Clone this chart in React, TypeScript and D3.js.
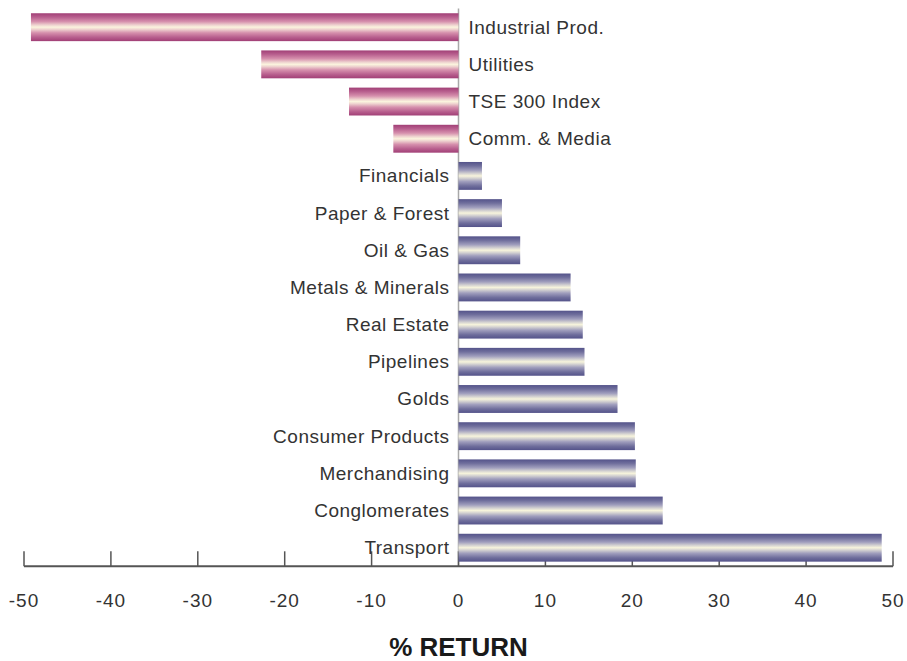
import React from "react";
import * as d3 from "d3";

// Sector returns, % (negative sectors first, then positive, top to bottom)
const categories = [
  "Industrial Prod.",
  "Utilities",
  "TSE 300 Index",
  "Comm. & Media",
  "Financials",
  "Paper & Forest",
  "Oil & Gas",
  "Metals & Minerals",
  "Real Estate",
  "Pipelines",
  "Golds",
  "Consumer Products",
  "Merchandising",
  "Conglomerates",
  "Transport",
];
const returns = [
  -49.2, -22.7, -12.6, -7.5, 2.7, 5.0, 7.1, 12.9, 14.3, 14.5, 18.3, 20.3, 20.4,
  23.5, 48.7,
];
const tickValues = [-50, -40, -30, -20, -10, 0, 10, 20, 30, 40, 50];
const axisTitle = "% RETURN";

const W = 907;
const H = 661;
const FONT = "'Liberation Sans', Arial, sans-serif";
const TEXT = "#333";

export default function App() {
  const x = d3.scaleLinear().domain([-50, 50]).range([24, 893]);
  const y = d3
    .scaleBand<string>()
    .domain(categories)
    .range([8.6, 566.3])
    .paddingInner(0.25)
    .paddingOuter(0.125);
  const axisY = y.range()[1];
  const bw = y.bandwidth();
  const x0 = x(0);

  const negStops = [
    [0, "#a13f76"],
    [0.14, "#b85f8e"],
    [0.3, "#d690ad"],
    [0.42, "#eed2cf"],
    [0.5, "#fbf4de"],
    [0.58, "#eed2cf"],
    [0.7, "#d690ad"],
    [0.86, "#b85f8e"],
    [1, "#a13f76"],
  ];
  const posStops = [
    [0, "#54538a"],
    [0.14, "#6f6e9c"],
    [0.3, "#a09ebd"],
    [0.42, "#d6d4d2"],
    [0.5, "#f7f4dc"],
    [0.58, "#d6d4d2"],
    [0.7, "#a09ebd"],
    [0.86, "#6f6e9c"],
    [1, "#54538a"],
  ];

  return (
    <svg
      width={W}
      height={H}
      style={{ position: "absolute", left: 0, top: 0, background: "#fff" }}
    >
      <defs>
        <linearGradient id="negGrad" x1="0" y1="0" x2="0" y2="1">
          {negStops.map(([o, c]) => (
            <stop key={String(o)} offset={o as number} stopColor={c as string} />
          ))}
        </linearGradient>
        <linearGradient id="posGrad" x1="0" y1="0" x2="0" y2="1">
          {posStops.map(([o, c]) => (
            <stop key={String(o)} offset={o as number} stopColor={c as string} />
          ))}
        </linearGradient>
      </defs>

      {/* zero line */}
      <line x1={x0} x2={x0} y1={y.range()[0]} y2={axisY} stroke="#a8a8a8" strokeWidth={1.5} />

      {/* axis ticks, behind the bars */}
      {tickValues.map((t) => (
        <line
          key={"t" + t}
          x1={x(t)}
          x2={x(t)}
          y1={axisY - 15}
          y2={axisY}
          stroke="#555"
          strokeWidth={1.5}
        />
      ))}
      <line x1={x(-50)} x2={x(50)} y1={axisY} y2={axisY} stroke="#555" strokeWidth={2} />

      {/* bars */}
      {categories.map((c, i) => {
        const v = returns[i];
        const xa = Math.min(x(v), x0);
        const w = Math.abs(x(v) - x0);
        return (
          <rect
            key={c}
            x={xa}
            y={y(c)}
            width={w}
            height={bw}
            fill={v < 0 ? "url(#negGrad)" : "url(#posGrad)"}
          />
        );
      })}

      {/* category labels on the opposite side of zero */}
      {categories.map((c, i) => {
        const v = returns[i];
        const neg = v < 0;
        return (
          <text
            key={"l" + c}
            x={neg ? x0 + 10 : x0 - 9}
            y={(y(c) as number) + bw / 2}
            dy="0.34em"
            textAnchor={neg ? "start" : "end"}
            fontFamily={FONT}
            fontSize={19}
            letterSpacing={0.5}
            fill={TEXT}
          >
            {c}
          </text>
        );
      })}

      {/* tick labels */}
      {tickValues.map((t) => (
        <text
          key={"n" + t}
          x={x(t)}
          y={607}
          textAnchor="middle"
          fontFamily={FONT}
          fontSize={19}
          letterSpacing={1}
          fill={TEXT}
        >
          {String(t)}
        </text>
      ))}

      <text
        x={x0}
        y={656}
        textAnchor="middle"
        fontFamily={FONT}
        fontSize={26}
        fontWeight="bold"
        fill="#1a1a1a"
      >
        {axisTitle}
      </text>
    </svg>
  );
}
